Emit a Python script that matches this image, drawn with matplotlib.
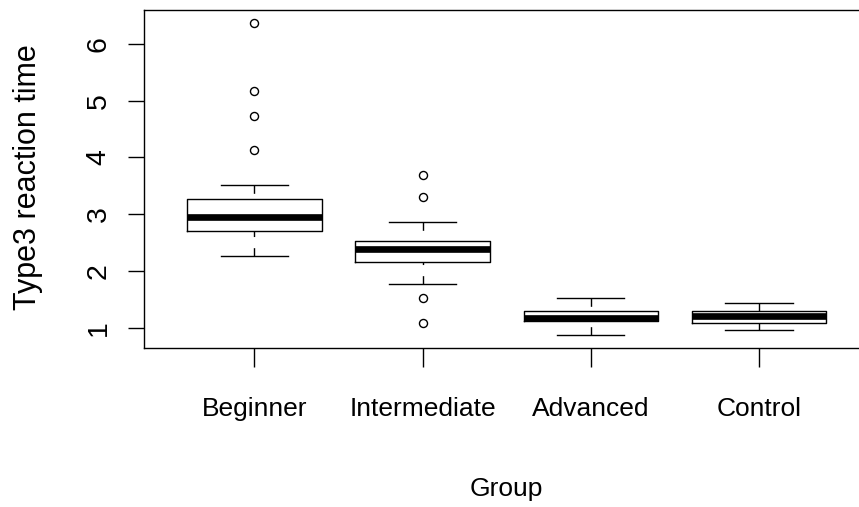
import matplotlib
matplotlib.use("Agg")
import matplotlib.pyplot as plt

# ---- data ----
categories = ["Beginner", "Intermediate", "Advanced", "Control"]
whisker_low = [2.257, 1.775, 0.866, 0.954]
q1 = [2.697, 2.162, 1.117, 1.077]
median = [2.954, 2.391, 1.174, 1.206]
q3 = [3.260, 2.526, 1.300, 1.300]
whisker_high = [3.518, 2.866, 1.518, 1.430]
outliers_beginner = [6.377, 5.167, 4.732, 4.123]
outliers_intermediate = [3.688, 3.296, 1.528, 1.088]
outliers_advanced = []
outliers_control = []
y_ticks = [1, 2, 3, 4, 5, 6]
y_tick_labels = ["1", "2", "3", "4", "5", "6"]
x_label = "Group"
y_label = "Type3 reaction time"

outliers = [outliers_beginner, outliers_intermediate, outliers_advanced, outliers_control]

plt.rcParams["font.family"] = ["Liberation Sans", "DejaVu Sans"]

W, H = 859, 507
fig = plt.figure(figsize=(W / 100, H / 100), dpi=100)
# axes pixel box (R-style extended limits); right side runs past the image
left_px, right_px, top_px, bottom_px = 143.5, 870.0, 10.1, 347.8
ax = fig.add_axes([left_px / W, 1 - bottom_px / H,
                   (right_px - left_px) / W, (bottom_px - top_px) / H])

stats = []
for i, name in enumerate(categories):
    stats.append(dict(label=name, whislo=whisker_low[i], q1=q1[i], med=median[i],
                      q3=q3[i], whishi=whisker_high[i], fliers=outliers[i]))

positions = list(range(1, len(categories) + 1))
res = ax.bxp(stats, positions=positions, widths=0.8, capwidths=0.4,
             patch_artist=False,
             boxprops=dict(color="black", linewidth=1.0),
             whiskerprops=dict(color="black", linewidth=1.0, linestyle=(0, (6, 8))),
             capprops=dict(color="black", linewidth=1.0),
             medianprops=dict(color="black", linewidth=4.8, solid_capstyle="butt"),
             flierprops=dict(marker="o", markerfacecolor="none", markeredgecolor="black",
                             markersize=5.8, markeredgewidth=1.0, linestyle="none"))
# R draws whiskers starting at the cap, so dash pattern begins there
for w in res["whiskers"]:
    w.set_ydata(list(w.get_ydata())[::-1])
    w.set_xdata(list(w.get_xdata())[::-1])

all_vals = whisker_low + whisker_high + [v for o in outliers for v in o]
lo, hi = min(all_vals), max(all_vals)
rng = hi - lo
ax.set_ylim(lo - 0.04 * rng, hi + 0.04 * rng)
ax.set_xlim(0.5 - 0.16, len(categories) + 0.5 + 0.16)

ax.set_xticks(positions, labels=categories, fontsize=19)
ax.set_yticks(y_ticks, labels=y_tick_labels, fontsize=20.5, rotation=90, va="center")
ax.tick_params(axis="x", length=13.5, width=1.0, pad=22, colors="black")
ax.tick_params(axis="y", length=11.5, width=1.0, pad=11.5, colors="black")

for s in ax.spines.values():
    s.set_linewidth(1.0)
    s.set_color("black")

ax.set_xlabel(x_label, fontsize=19, va="baseline")
ax.xaxis.set_label_coords(0.5, (bottom_px - 496.0) / (bottom_px - top_px))
ax.set_ylabel(y_label, fontsize=22, va="baseline", rotation_mode="anchor")
ax.yaxis.set_label_coords((36.0 - left_px) / (right_px - left_px),
                          (bottom_px - 177.0) / (bottom_px - top_px))

fig.savefig("out.png", dpi=100)
